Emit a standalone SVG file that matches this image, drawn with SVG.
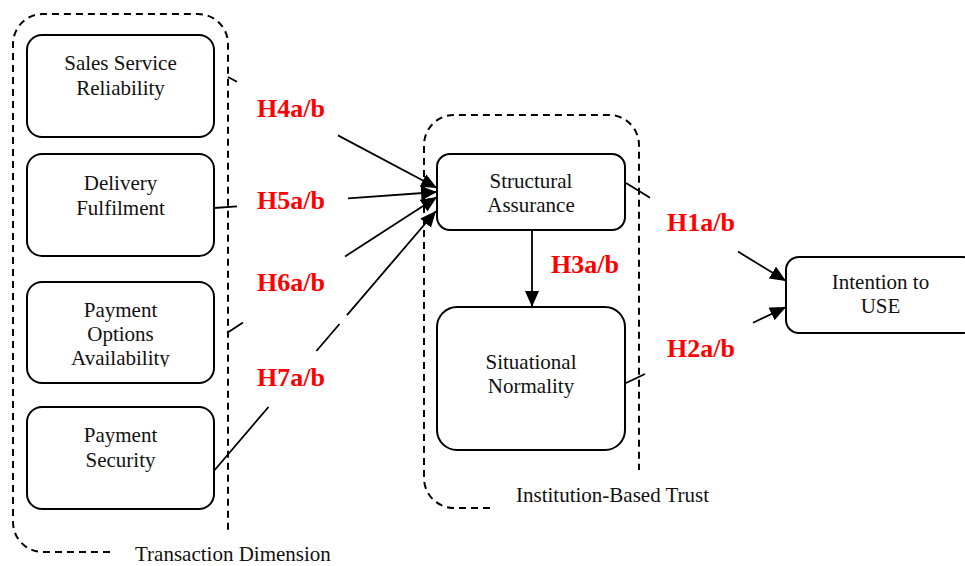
<svg xmlns="http://www.w3.org/2000/svg" width="965" height="566" viewBox="0 0 965 566">
  <style>
    .box { fill: #fff; stroke: #000; stroke-width: 2; }
    .grp { fill: none; stroke: #000; stroke-width: 2; stroke-dasharray: 7 5; }
    .txt { font-family: "Liberation Serif", "Times New Roman", serif; font-size: 21px; fill: #111; text-anchor: middle; }
    .cap { font-family: "Liberation Serif", "Times New Roman", serif; font-size: 21px; fill: #111; }
    .hyp { font-family: "Liberation Serif", "Times New Roman", serif; font-size: 26px; font-weight: bold; fill: #ff0000; }
    .link { fill: none; stroke: #000; stroke-width: 1.8; marker-end: url(#arrow); }
  </style>
  <defs>
    <marker id="arrow" markerUnits="userSpaceOnUse" markerWidth="17" markerHeight="15" refX="16" refY="7" orient="auto">
      <path d="M0,0 L16,7 L0,14 z" fill="#000"/>
    </marker>
    <clipPath id="clipPOA">
      <rect x="27" y="282" width="187" height="85"/>
    </clipPath>
  </defs>

  <rect width="965" height="566" fill="#fff"/>

  <!-- dashed group outlines -->
  <g id="transaction-dimension">
    <path class="grp" d="M110,552 H43 A30,30 0 0 1 13,522 V44 A30,30 0 0 1 43,14 H198 A30,30 0 0 1 228,44 V530"/>
    <text class="cap" x="135" y="561">Transaction Dimension</text>
  </g>
  <g id="institution-based-trust">
    <path class="grp" d="M490,508 H454 A30,30 0 0 1 424,478 V145 A30,30 0 0 1 454,115 H609 A30,30 0 0 1 639,145 V470"/>
    <text class="cap" x="516" y="502">Institution-Based Trust</text>
  </g>

  <!-- connectors -->
  <g id="connectors">
    <path class="link" d="M228,77 L237,81.8 M338,135.4 L437,188"/>
    <path class="link" d="M214,208 L237,206.3 M348,198.4 L437,192"/>
    <path class="link" d="M227,333 L243,322.6 M345,256.5 L437,197"/>
    <path class="link" d="M213,472 L268.5,407 M316.4,351 L339.5,324 M347,315.2 L436,211"/>
    <path class="link" d="M532,230 L532,307"/>
    <path class="link" d="M626,183 L650,197.7 M738,251.6 L786,281"/>
    <path class="link" d="M626,383 L645,374 M753,322.7 L786,307"/>
  </g>

  <!-- nodes -->
  <g id="sales-service-reliability">
    <rect class="box" x="27" y="35" width="187" height="102" rx="15"/>
    <text class="txt" x="120.5" y="70">Sales Service</text>
    <text class="txt" x="120.5" y="95">Reliability</text>
  </g>
  <g id="delivery-fulfilment">
    <rect class="box" x="27" y="154" width="187" height="102" rx="15"/>
    <text class="txt" x="120.5" y="190">Delivery</text>
    <text class="txt" x="120.5" y="215">Fulfilment</text>
  </g>
  <g id="payment-options-availability">
    <rect class="box" x="27" y="282" width="187" height="101" rx="15"/>
    <g clip-path="url(#clipPOA)">
      <text class="txt" x="120.5" y="317">Payment</text>
      <text class="txt" x="120.5" y="341">Options</text>
      <text class="txt" x="120.5" y="365">Availability</text>
    </g>
  </g>
  <g id="payment-security">
    <rect class="box" x="27" y="407" width="187" height="102" rx="15"/>
    <text class="txt" x="120.5" y="442">Payment</text>
    <text class="txt" x="120.5" y="467">Security</text>
  </g>
  <g id="structural-assurance">
    <rect class="box" x="437" y="154" width="188" height="76" rx="13"/>
    <text class="txt" x="531" y="188">Structural</text>
    <text class="txt" x="531" y="212">Assurance</text>
  </g>
  <g id="situational-normality">
    <rect class="box" x="437" y="307" width="188" height="143" rx="20"/>
    <text class="txt" x="531" y="369">Situational</text>
    <text class="txt" x="531" y="393">Normality</text>
  </g>
  <g id="intention-to-use">
    <rect class="box" x="786" y="257" width="190" height="76" rx="13"/>
    <text class="txt" x="880.5" y="289">Intention to</text>
    <text class="txt" x="880.5" y="313">USE</text>
  </g>

  <!-- hypothesis labels -->
  <g id="hypotheses">
    <text class="hyp" x="257" y="117">H4a/b</text>
    <text class="hyp" x="257" y="209">H5a/b</text>
    <text class="hyp" x="257" y="291">H6a/b</text>
    <text class="hyp" x="257" y="386">H7a/b</text>
    <text class="hyp" x="551" y="273">H3a/b</text>
    <text class="hyp" x="667" y="231">H1a/b</text>
    <text class="hyp" x="667" y="357">H2a/b</text>
  </g>
</svg>
